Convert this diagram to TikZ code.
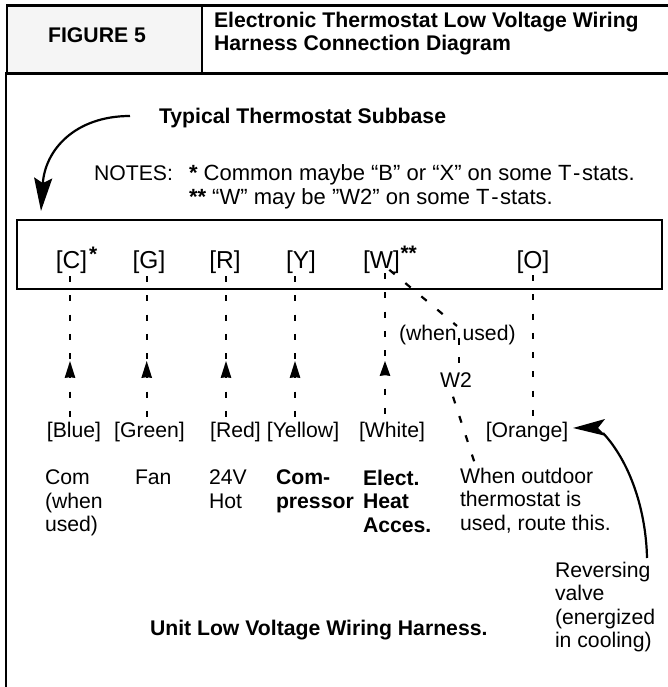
\documentclass[tikz,border=0pt]{standalone}
\usepackage{fontspec}
\setmainfont{Liberation Sans}
\usetikzlibrary{arrows.meta}
\newcommand{\bodyfs}{\fontsize{21.2}{23.5}\selectfont}
\newcommand{\notefs}{\fontsize{22}{23.5}\selectfont}
\newcommand{\termfs}{\fontsize{24.5}{25}\selectfont}
\newcommand{\tstats}{T\hspace{1.6pt}-\hspace{1.6pt}stats}
\tikzset{
  x=1pt,y=-1pt,
  txt/.style={inner sep=0pt,outer sep=0pt,anchor=base west,font=\bodyfs,align=left},
  ntxt/.style={txt,font=\notefs},
  ctxt/.style={txt,anchor=base},
  btxt/.style={txt,font=\bodyfs\bfseries},
  termlabel/.style={ctxt,font=\termfs},
  termstar/.style={txt,font=\fontsize{21}{24}\selectfont\bfseries},
  wire/.style={line width=2.2pt,dash pattern=on 6pt off 13.25pt},
  frame/.style={draw=black,line width=2.2pt},
  headfill/.style={fill=black,draw=none},
  bigarrow/.style={line width=2.2pt,-{Stealth[length=33pt,width=18pt,inset=5pt]}},
  bigline/.style={line width=2.2pt}
}
\begin{document}
\begin{tikzpicture}
\useasboundingbox (0,0) rectangle (668,687);
\fill[fill=white] (0,0) rectangle (668,687);
% frame
\node[frame,fill=black!4,minimum width=194.5pt,minimum height=68pt,inner sep=0pt,anchor=north west] (figcell) at (6,4.5) {};
\node[frame,minimum width=472pt,minimum height=68pt,inner sep=0pt,anchor=north west] (titlecell) at (200.5,4.5) {};
\draw[frame] (6,72.5) -- (6,687);
\node[btxt,anchor=base] (figlabel) at (97,42.5) {FIGURE 5};
\node[btxt] (title1) at (214,27.5) {Electronic Thermostat Low Voltage Wiring};
\node[btxt] (title2) at (214,51) {Harness Connection Diagram};
\node[btxt] (subbase) at (159,124) {Typical Thermostat Subbase};
\node[txt] (notes) at (94,180.5) {NOTES:};
\node[ntxt] (note1) at (189,180.5) {{\bfseries *} Common maybe “B” or “X” on some \tstats.};
\node[ntxt] (note2) at (189,204.5) {{\bfseries **} “W” may be ”W2” on some \tstats.};
% subbase
\node[frame,minimum width=645pt,minimum height=69pt,inner sep=0pt,anchor=north west] (box) at (16,219) {};
\node[termlabel] (tC) at (71.5,268) {[C]};
\node[termstar] (starC) at (89,261) {*};
\node[termlabel] (tG) at (149,268) {[G]};
\node[termlabel] (tR) at (225,268) {[R]};
\node[termlabel] (tY) at (301,268) {[Y]};
\node[termlabel] (tW) at (381.5,268) {[W]};
\node[termstar] (starW) at (400.5,260) {**};
\node[termlabel] (tO) at (533,268) {[O]};
% harness labels
\node[ctxt] (hB) at (74,437) {[Blue]};
\node[ctxt] (hG) at (149.5,437) {[Green]};
\node[ctxt] (hR) at (235.5,437) {[Red]};
\node[ctxt] (hY) at (303,437) {[Yellow]};
\node[ctxt] (hW) at (392,437) {[White]};
\node[ctxt] (hO) at (527,437) {[Orange]};
% functions
\node[txt,anchor=north west] (fCom) at (45,470) {Com\\(when\\used)};
\node[txt,anchor=north west] (fFan) at (135,470) {Fan};
\node[txt,anchor=north west] (fHot) at (209,470) {24V\\Hot};
\node[btxt,anchor=north west] (fComp) at (276,470) {Com-\\pressor};
\node[btxt,anchor=north west] (fElec) at (363,470) {Elect.\\Heat\\Acces.};
\node[txt,anchor=north west] (fOut) at (460,468) {When outdoor\\thermostat is\\used, route this.};
\node[txt,anchor=north west] (fRev) at (555,562) {Reversing\\valve\\(energized\\in cooling)};
\node[btxt] (harness) at (150,635) {Unit Low Voltage Wiring Harness.};
\node[txt] (whenused) at (399,340) {(when used)};
\node[txt,anchor=base] (w2) at (456,387) {W2};
% wires
\coordinate (sC) at (70,276);
\coordinate (sG) at (146.7,276);
\coordinate (sR) at (226,276);
\coordinate (sY) at (295,276);
\coordinate (sW) at (385,273);
\coordinate (sO) at (533,275);
\coordinate (eC) at (70,417);
\coordinate (eG) at (146.7,417);
\coordinate (eR) at (226,417);
\coordinate (eY) at (295,417);
\coordinate (eW) at (385,415);
\coordinate (eO) at (533,418);
\foreach \s/\e in {sC/eC,sG/eG,sR/eR,sY/eY,sW/eW,sO/eO}{
  \draw[wire] (\s) -- (\e);
}
\foreach \e in {eC,eG,eR,eY}{
  \fill[headfill] ([shift={(0,-56)}]\e) -- ([shift={(5.4,-39)}]\e) -- ([shift={(0,-39.8)}]\e) -- ([shift={(-5.4,-39)}]\e) -- cycle;
}
\fill[headfill] ([shift={(0,-54)}]eW) -- ([shift={(5.4,-39)}]eW) -- ([shift={(0,-39.8)}]eW) -- ([shift={(-5.4,-39)}]eW) -- cycle;
% W2 route
\coordinate (a1) at (389.3,269.8);
\coordinate (a2) at (457,326);
\coordinate (a3) at (459,338);
\coordinate (a4) at (459,363);
\coordinate (a5) at (453,396.7);
\coordinate (a6) at (474.2,461.5);
\draw[line width=2.2pt,dash pattern=on 7pt off 13.8pt] (a1) -- (a2);
\draw[line width=2.2pt,dash pattern=on 6.5pt off 12.5pt] (a3) -- (a4);
\draw[line width=2.2pt,dash pattern=on 7pt off 13.3pt] (a5) -- (a6);
% big arrows
\coordinate (ar1) at (130,116);
\coordinate (ar1e) at (41,211);
\draw[bigarrow] (ar1) .. controls (75,116) and (45,150) .. (ar1e);
\coordinate (ar2) at (647,558);
\coordinate (ar2j) at (603,433);
\draw[bigline] (ar2) .. controls (646,510) and (630,462) .. (ar2j);
\fill[headfill] (573,428) -- (605,419) -- (598,428) -- (606,436) -- cycle;
\end{tikzpicture}
\end{document}
